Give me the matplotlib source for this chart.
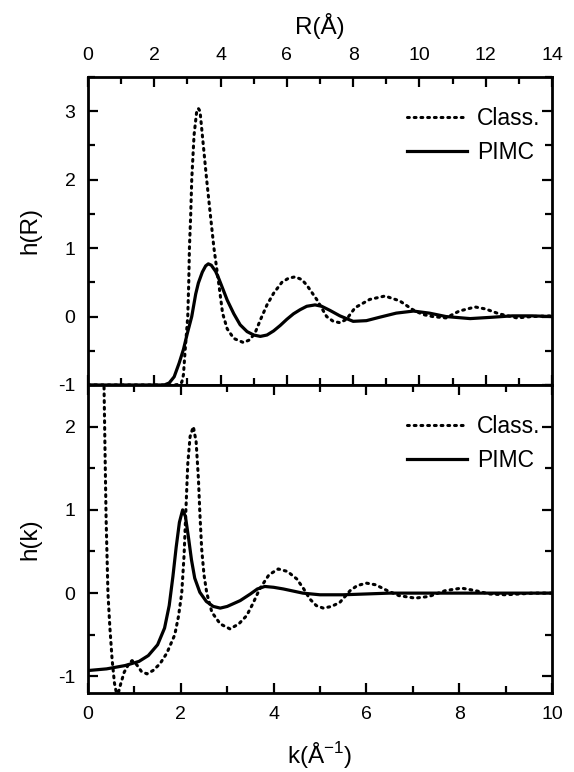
import matplotlib
matplotlib.use("Agg")
import matplotlib.pyplot as plt
from matplotlib.ticker import MultipleLocator

plt.rcParams['font.family'] = ['Liberation Sans', 'DejaVu Sans']
plt.rcParams['axes.unicode_minus'] = False

# ---- data ----
# top panel: h(R)
r_class = [0.0, 2.6, 2.75, 2.83, 2.88, 2.93, 2.97, 3.01, 3.04, 3.06, 3.1, 3.13, 3.2,
           3.28, 3.33, 3.38, 3.46, 3.58, 3.7, 3.8, 3.94, 4.06, 4.2, 4.4, 4.69, 4.88,
           5.04, 5.2, 5.4, 5.6, 5.85, 6.05, 6.25, 6.45, 6.6, 6.9, 7.2, 7.4, 7.6,
           7.8, 8.06, 8.5, 8.96, 9.4, 9.8, 10.1, 10.4, 10.8, 11.2, 11.68, 12.0,
           12.4, 12.94, 13.4, 14.0]
h_class_r = [-1.0, -1.0, -0.99, -0.96, -0.85, -0.5, -0.25, 0.0, 0.5, 1.0, 1.5, 2.0, 2.65,
             3.0, 3.04, 3.0, 2.6, 2.0, 1.45, 1.0, 0.5, 0.05, -0.18, -0.32, -0.38, -0.34,
             -0.24, -0.05, 0.17, 0.34, 0.5, 0.56, 0.58, 0.54, 0.46, 0.25, 0.0, -0.07, -0.09,
             -0.04, 0.13, 0.25, 0.3, 0.23, 0.1, 0.03, 0.0, -0.02, 0.08, 0.14, 0.11,
             0.04, -0.02, 0.0, 0.01]

r_pimc = [0.0, 2.3, 2.45, 2.6, 2.75, 2.88, 3.0, 3.13, 3.25, 3.33, 3.45, 3.55, 3.63,
          3.72, 3.85, 3.95, 4.08, 4.2, 4.4, 4.59, 4.8, 5.0, 5.2, 5.4, 5.6, 5.8, 6.0,
          6.2, 6.4, 6.6, 6.85, 7.05, 7.3, 7.6, 8.0, 8.4, 8.8, 9.3, 9.82, 10.3, 10.8,
          11.53, 12.2, 12.8, 13.4, 14.0]
h_pimc_r = [-1.0, -1.0, -0.97, -0.88, -0.68, -0.48, -0.24, 0.0, 0.33, 0.49, 0.65, 0.74, 0.77,
            0.75, 0.66, 0.55, 0.39, 0.24, 0.04, -0.12, -0.22, -0.27, -0.29, -0.27, -0.21,
            -0.13, -0.04, 0.04, 0.1, 0.15, 0.17, 0.15, 0.09, 0.01, -0.07, -0.06, -0.01,
            0.05, 0.08, 0.05, 0.0, -0.03, -0.01, 0.01, 0.01, 0.0]

# bottom panel: h(k)
k_class = [0.3, 0.345, 0.37, 0.39, 0.43, 0.47, 0.52, 0.57, 0.63, 0.7, 0.78, 0.88, 0.95,
           1.05, 1.15, 1.27, 1.4, 1.55, 1.7, 1.87, 1.95, 2.02, 2.07, 2.11, 2.15, 2.2,
           2.27, 2.33, 2.38, 2.41, 2.45, 2.5, 2.56, 2.67, 2.85, 3.06, 3.25, 3.42, 3.55,
           3.7, 3.9, 4.1, 4.3, 4.5, 4.65, 4.78, 4.92, 5.07, 5.25, 5.43, 5.65, 5.8, 6.0,
           6.2, 6.45, 6.7, 7.05, 7.35, 7.7, 8.05, 8.35, 8.65, 9.0, 9.3, 9.6, 10.0]
h_class_k = [3.2, 2.5, 1.6, 0.9, 0.0, -0.4, -0.8, -1.08, -1.25, -1.1, -0.95, -0.85, -0.81,
             -0.86, -0.94, -0.97, -0.93, -0.85, -0.72, -0.5, -0.28, 0.0, 0.45, 1.0, 1.55, 1.88,
             2.0, 1.82, 1.37, 0.97, 0.53, 0.22, 0.0, -0.23, -0.37, -0.43, -0.37, -0.27, -0.13,
             0.05, 0.22, 0.29, 0.26, 0.17, 0.05, -0.07, -0.15, -0.18, -0.16, -0.11, 0.03, 0.09, 0.12,
             0.1, 0.03, -0.03, -0.06, -0.04, 0.03, 0.06, 0.03, -0.01, -0.02, -0.01, 0.0, 0.0]

k_pimc = [0.0, 0.4, 0.8, 1.1, 1.3, 1.5, 1.65, 1.75, 1.83, 1.9, 1.97, 2.04, 2.1, 2.17,
          2.23, 2.3, 2.41, 2.55, 2.7, 2.85, 3.0, 3.28, 3.5, 3.65, 3.81, 4.0, 4.21, 4.63,
          5.0, 5.5, 6.0, 6.5, 7.0, 8.0, 9.0, 10.0]
h_pimc_k = [-0.93, -0.91, -0.87, -0.82, -0.75, -0.62, -0.42, -0.15, 0.2, 0.55, 0.85, 1.0, 0.92, 0.65,
            0.4, 0.18, 0.01, -0.1, -0.16, -0.18, -0.16, -0.09, -0.01, 0.05, 0.08, 0.07, 0.05, 0.0,
            -0.02, -0.02, -0.01, 0.0, 0.0, 0.0, 0.0, 0.0]

dot = (0, (0.6, 1.6))

fig = plt.figure(figsize=(5.74, 7.72), dpi=100)
ax1 = fig.add_axes([0.1533, 0.5013, 0.8084, 0.399])
ax2 = fig.add_axes([0.1533, 0.1023, 0.8084, 0.399])

ax1.plot(r_class, h_class_r, color='black', lw=2.2, ls=dot, dash_capstyle='round', label='Class.')
ax1.plot(r_pimc, h_pimc_r, color='black', lw=2.3, label='PIMC')
ax2.plot(k_class, h_class_k, color='black', lw=2.2, ls=dot, dash_capstyle='round', label='Class.')
ax2.plot(k_pimc, h_pimc_k, color='black', lw=2.3, label='PIMC')

ax1.set_xlim(0, 14)
ax1.set_ylim(-1, 3.5)
ax2.set_xlim(0, 10)
ax2.set_ylim(-1.2, 2.5)

for ax in (ax1, ax2):
    for s in ax.spines.values():
        s.set_linewidth(2.0)
    ax.xaxis.set_major_locator(MultipleLocator(2))
    ax.xaxis.set_minor_locator(MultipleLocator(1))
    ax.yaxis.set_major_locator(MultipleLocator(1))
    ax.yaxis.set_minor_locator(MultipleLocator(0.5))
    ax.tick_params(which='both', direction='in', top=True, right=True, width=1.6,
                   labelsize=14, pad=9)
    ax.tick_params(which='major', length=7)
    ax.tick_params(which='minor', length=5)
    ax.legend(loc='upper right', bbox_to_anchor=(1.0, 0.94), frameon=False, fontsize=16.5,
              handlelength=2.6, handletextpad=0.45, labelspacing=0.5, borderaxespad=0.1)

ax1.tick_params(labelbottom=False, labeltop=True)
ax1.xaxis.set_label_position('top')
ax1.set_xlabel('R(Å)', fontsize=17.5, labelpad=10)
ax1.set_ylabel('h(R)', fontsize=17.5, labelpad=12)

ax2.set_xlabel('k(Å$^{\\mathregular{-1}}$)', fontsize=17.5, labelpad=13)
ax2.set_ylabel('h(k)', fontsize=17.5, labelpad=12)

fig.savefig('out.png', dpi=100)
